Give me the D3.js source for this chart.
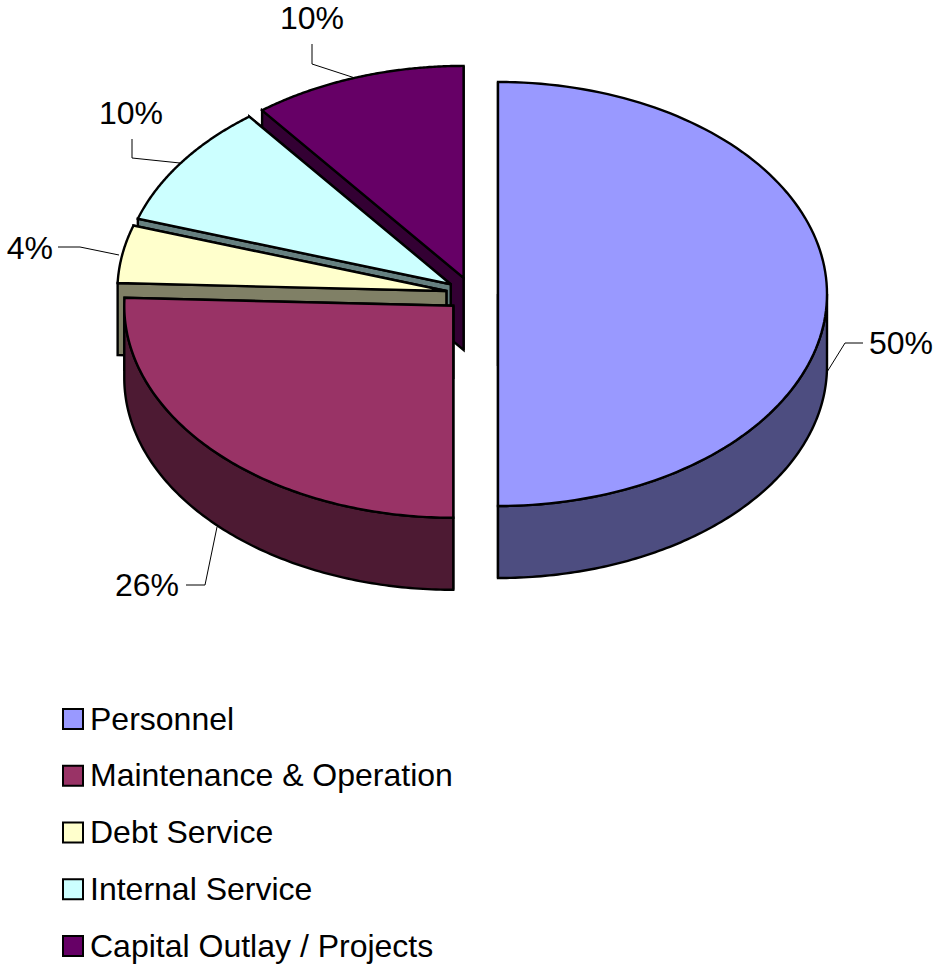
<!DOCTYPE html>
<html><head><meta charset="utf-8">
<script src="https://cdn.jsdelivr.net/npm/d3@7"></script>
<style>html,body{margin:0;padding:0;background:#fff}svg{display:block}text{font-family:"Liberation Sans",Arial,sans-serif;fill:#000}</style>
</head><body><svg id="c" width="935" height="965"></svg>
<script>
const categories = ["Personnel","Maintenance & Operation","Debt Service","Internal Service","Capital Outlay / Projects"];
const values = [50, 25.6, 4.4, 9.51, 10.49];
const topColors = ["#9999FF","#993366","#FFFFCC","#CCFFFF","#660066"];
const sideColors = ["#4D4D80","#4D1A33","#808066","#668080","#330033"];
const labelPoints = [[869,343],[179,585],[53,248],[131,113],[312,18]];
const leaders = [
  [[827,372],[845,343],[863,343]],
  [[217,527],[205,585],[186,585]],
  [[58,247],[80,247],[119,255]],
  [[132,139],[132,158],[180,163]],
  [[312,44],[312,64],[355,78]]
];
const labelAnchors = ["start","end","end","middle","middle"];

const svg = d3.select("#c");
const rx = 329, ry = 212, depth = 72, cx = 472, cy = 294, ex = 26, ey = 17;
const slices = d3.pie().sort(null).value(d => d)(values);
const pct = d3.scaleLinear().domain([0, d3.sum(values)]).range([0, 100]);
const line = d3.line();

function geom(s) {
  const mid = (s.startAngle + s.endAngle) / 2;
  const ox = cx + ex * Math.sin(mid), oy = cy - ey * Math.cos(mid);
  const pt = (a, dz = 0) => [ox + rx * Math.sin(a), oy - ry * Math.cos(a) + dz];
  return { ox, oy, pt };
}
function arcPts(pt, a0, a1, dz = 0) {
  return d3.range(0, 121).map(k => pt(a0 + (a1 - a0) * k / 120, dz));
}
const order = d3.range(values.length).reverse();
const g = svg.append("g").attr("stroke", "#000").attr("stroke-width", 2.4).attr("stroke-linejoin", "miter");

order.forEach(i => {
  const s = slices[i], { ox, oy, pt } = geom(s), side = sideColors[i];
  const wall = a => line([[ox, oy], pt(a), pt(a, depth), [ox, oy + depth]]) + "Z";
  g.append("path").attr("d", wall(s.endAngle)).attr("fill", side);
  g.append("path").attr("d", wall(s.startAngle)).attr("fill", side);
  const a0 = Math.max(s.startAngle, Math.PI / 2), a1 = Math.min(s.endAngle, 3 * Math.PI / 2);
  if (a1 > a0) {
    const pts = arcPts(pt, a0, a1).concat(arcPts(pt, a1, a0, depth));
    g.append("path").attr("d", line(pts) + "Z").attr("fill", side);
  }
  const top = [[ox, oy]].concat(arcPts(pt, s.startAngle, s.endAngle));
  g.append("path").attr("d", line(top) + "Z").attr("fill", topColors[i]);
});

leaders.forEach(l => svg.append("path").attr("d", line(l)).attr("fill", "none").attr("stroke", "#000").attr("stroke-width", 1));
values.forEach((v, i) => svg.append("text").attr("x", labelPoints[i][0]).attr("y", labelPoints[i][1])
  .attr("dy", "0.33em").attr("text-anchor", labelAnchors[i]).attr("font-size", 32)
  .text(Math.round(pct(v)) + "%"));

const legendY = d3.scalePoint().domain(categories).range([719, 946]);
categories.forEach((c, i) => {
  svg.append("rect").attr("x", 63).attr("y", legendY(c) - 10).attr("width", 20).attr("height", 20)
    .attr("fill", topColors[i]).attr("stroke", "#000").attr("stroke-width", 2);
  svg.append("text").attr("x", 90).attr("y", legendY(c)).attr("dy", "0.33em").attr("font-size", 32).text(c);
});
</script></body></html>
